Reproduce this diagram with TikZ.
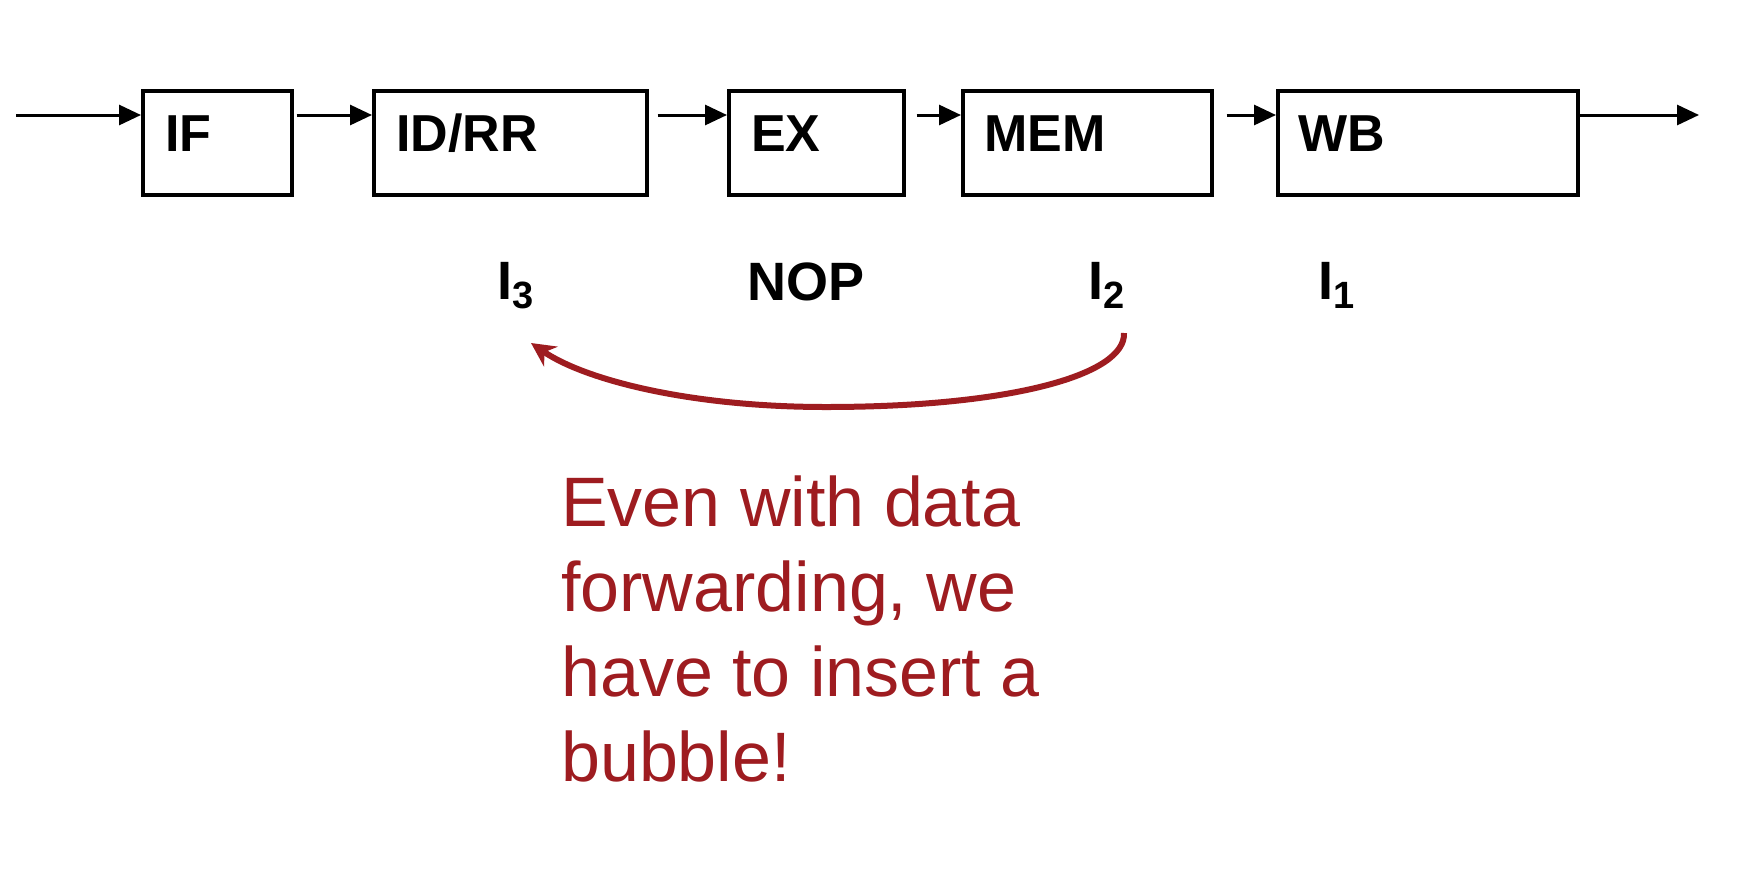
\documentclass[tikz,border=0pt]{standalone}
\usepackage{fontspec}
\setmainfont{Liberation Sans}
\usetikzlibrary{arrows.meta}
\definecolor{dred}{HTML}{9E1C20}
\tikzset{
  stage/.style={draw=black, line width=3.5pt, anchor=north west, inner sep=0pt, minimum height=104pt},
  lbl/.style={anchor=base west, inner sep=0pt, font=\fontsize{52}{52}\selectfont\bfseries},
  instr/.style={anchor=base, inner sep=0pt, font=\fontsize{54}{54}\selectfont\bfseries},
  arr/.style={line width=3pt, -{Triangle[length=22pt,width=20pt]}},
  fwd/.style={draw=dred, line width=6pt, -{Stealth[length=24pt,width=24pt]}},
  note/.style={anchor=base west, inner sep=0pt, text=dred, align=left, font=\fontsize{70}{85}\selectfont}
}
\newcommand{\sub}[1]{\raisebox{-9pt}{\fontsize{38}{38}\selectfont #1}}
\begin{document}
\begin{tikzpicture}[x=1pt,y=-1pt]
\useasboundingbox (0,0) rectangle (1750,884);
\node[stage, minimum width=149pt] (IF) at (141,89) {};
\node[stage, minimum width=273pt] (IDRR) at (372,89) {};
\node[stage, minimum width=175pt] (EX) at (727,89) {};
\node[stage, minimum width=249pt] (MEM) at (961,89) {};
\node[stage, minimum width=300pt] (WB) at (1276,89) {};
\node[lbl] (IFt) at ([shift={(24,62)}]IF.north west) {IF};
\node[lbl] (IDRRt) at ([shift={(24,62)}]IDRR.north west) {ID/RR};
\node[lbl] (EXt) at ([shift={(24,62)}]EX.north west) {EX};
\node[lbl] (MEMt) at ([shift={(23,62)}]MEM.north west) {MEM};
\node[lbl] (WBt) at ([shift={(22,62)}]WB.north west) {WB};
\coordinate (in) at (16,115);
\coordinate (out) at (1699,115);
\draw[arr] (in) -- ([shift={(0,26)}]IF.north west);
\draw[arr] ([shift={(3,26)}]IF.north east) -- ([shift={(0,26)}]IDRR.north west);
\draw[arr] ([shift={(9,26)}]IDRR.north east) -- ([shift={(0,26)}]EX.north west);
\draw[arr] ([shift={(11,26)}]EX.north east) -- ([shift={(0,26)}]MEM.north west);
\draw[arr] ([shift={(13,26)}]MEM.north east) -- ([shift={(0,26)}]WB.north west);
\draw[arr] ([shift={(0,26)}]WB.north east) -- (out);
\node[instr] (I3) at (516,299) {I\sub{3}};
\node[instr] (NOP) at (806,300) {NOP};
\node[instr] (I2) at (1107,299) {I\sub{2}};
\node[instr] (I1) at (1337,299) {I\sub{1}};
\coordinate (fs) at (1124,333);
\coordinate (fe) at (531,343);
\draw[fwd] (fs) .. controls (1126,375) and (1010,407) .. (826,407)
  .. controls (690,407) and (585,380) .. (fe);
\node[note] (txt) at (561,781) {Even with data\\forwarding, we\\have to insert a\\bubble!};
\end{tikzpicture}
\end{document}
